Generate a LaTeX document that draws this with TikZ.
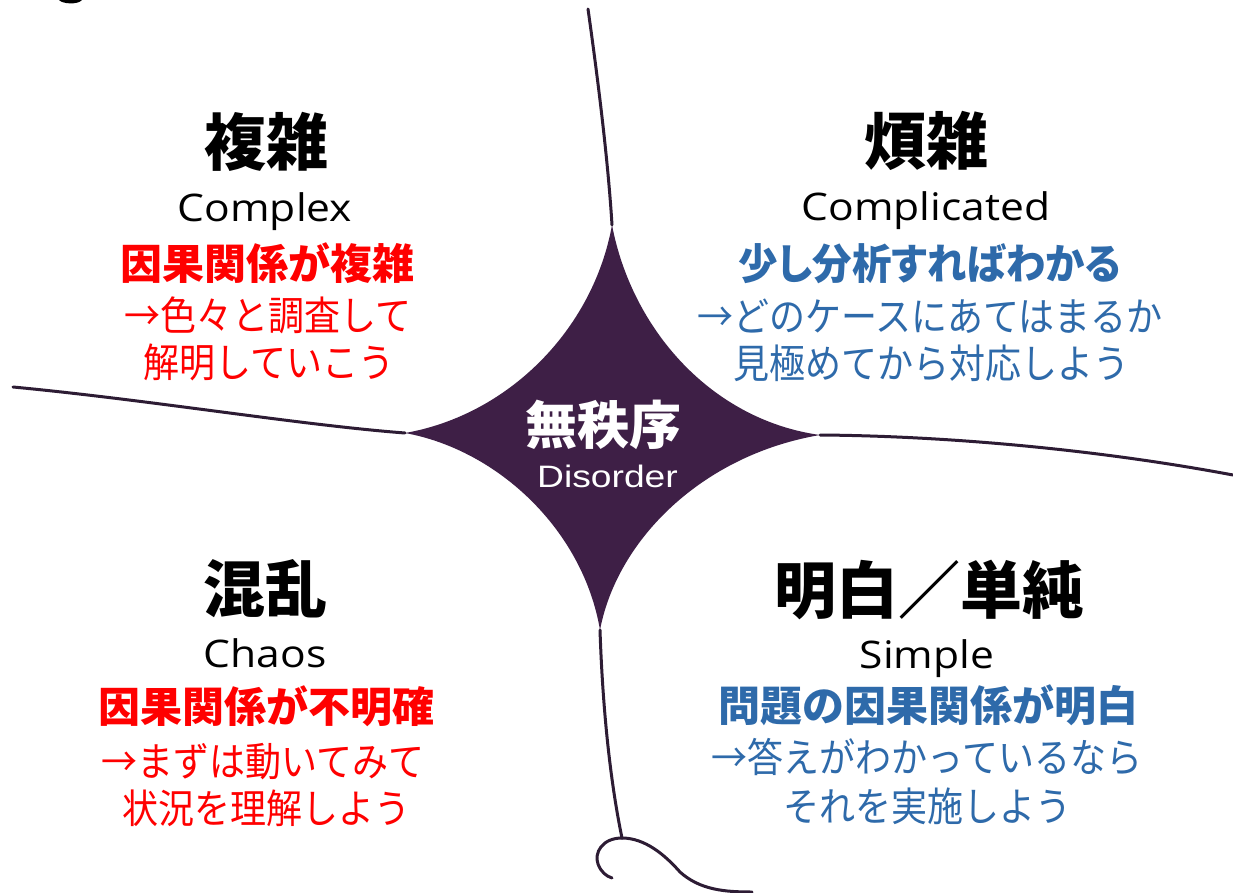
\documentclass[tikz,border=0pt]{standalone}
\usepackage{fontspec}
\newfontfamily\jp{Noto Sans CJK JP}
\newfontfamily\jpn{Noto Sans CJK JP}[FakeStretch=0.9]
\newfontfamily\jpp{Noto Sans CJK JP}[RawFeature=+palt, FakeStretch=0.94]
\newfontfamily\en{Open Sans}[FakeStretch=1.12]
\newfontfamily\dis{Liberation Sans}[FakeStretch=1.2]
\definecolor{jred}{RGB}{255,0,0}
\definecolor{jblue}{RGB}{46,106,170}
\definecolor{starfill}{RGB}{62,31,70}
\definecolor{edgecol}{RGB}{45,28,52}
\tikzset{
  head/.style={font=\jp\bfseries\fontsize{62}{70}\selectfont, inner sep=0pt, text=black},
  eng/.style={font=\en\fontsize{38}{44}\selectfont, anchor=base, inner sep=0pt, text=black},
  boldline/.style={font=\jp\bfseries\fontsize{42}{48}\selectfont, inner sep=0pt},
  normline/.style={font=\jpn\fontsize{40}{46}\selectfont, inner sep=0pt},
  edgeline/.style={draw=edgecol, line width=3pt, line cap=round},
}
\begin{document}
\begin{tikzpicture}[x=1pt,y=-1pt]
\useasboundingbox (0,0) rectangle (1233,893);
\fill[white] (0,0) rectangle (1233,893);
% small fragment at top left
\fill[black] (59,0) .. controls (62,4) and (78,5) .. (82,0) -- cycle;
% star (Disorder)
\coordinate (T) at (612,225);
\coordinate (R) at (820,435);
\coordinate (B) at (600,630);
\coordinate (L) at (405,433);
\fill[starfill] (T) .. controls (632,330) and (712,420) .. (R)
  .. controls (702,455) and (617,540) .. (B)
  .. controls (583,530) and (498,450) .. (L)
  .. controls (508,415) and (593,330) .. (T) -- cycle;
% boundary lines
\coordinate (topend) at (588,9);
\coordinate (leftend) at (13,387);
\coordinate (rightend) at (1233,475);
\coordinate (curl) at (622,838);
\coordinate (curlL) at (612,878);
\coordinate (curlR) at (752,892);
\draw[edgeline] (topend) .. controls (598,80) and (608,160) .. (T);
\draw[edgeline] (leftend) .. controls (150,400) and (300,425) .. (L);
\draw[edgeline] (R) .. controls (950,436) and (1100,450) .. (rightend);
\draw[edgeline] (B) .. controls (603,720) and (612,790) .. (curl);
\draw[edgeline] (curl) .. controls (602,838) and (594,853) .. (598,864) .. controls (601,872) and (606,876) .. (curlL);
\draw[edgeline] (curl) .. controls (645,838) and (665,855) .. (680,872) .. controls (700,890) and (725,892) .. (curlR);
% center text
\node[font=\jp\bfseries\fontsize{52}{58}\selectfont, text=white, inner sep=0pt] (mu) at (603.5,425) {無秩序};
\node[font=\dis\fontsize{31}{36}\selectfont, text=white, inner sep=0pt, anchor=base] (dis) at (607.5,487) {Disorder};
% top-left: Complex
\node[head] (h1) at (266,141.5) {複雑};
\node[eng] (e1) at (265,222) {Complex};
\node[boldline, text=jred] (b1) at (267,263.5) {因果関係が複雑};
\node[normline, text=jred] (n1a) at (268,315) {→色々と調査して};
\node[normline, text=jred] (n1b) at (269,362.5) {解明していこう};
% top-right: Complicated
\node[head] (h2) at (926,140.5) {煩雑};
\node[eng] (e2) at (926,221) {Complicated};
\node[boldline, font=\jpp\bfseries\fontsize{42}{48}\selectfont, text=jblue] (b2) at (930,263.5) {少し分析すればわかる};
\node[normline, text=jblue] (n2a) at (930,316.5) {→どのケースにあてはまるか};
\node[normline, text=jblue] (n2b) at (931,363.5) {見極めてから対応しよう};
% bottom-left: Chaos
\node[head] (h3) at (265,588.5) {混乱};
\node[eng] (e3) at (265,667) {Chaos};
\node[boldline, text=jred] (b3) at (266,706.5) {因果関係が不明確};
\node[normline, text=jred] (n3a) at (263,761.5) {→まずは動いてみて};
\node[normline, text=jred] (n3b) at (266,808.5) {状況を理解しよう};
% bottom-right: Simple
\node[head] (h4) at (929,589.5) {明白／単純};
\node[eng] (e4) at (927,668) {Simple};
\node[boldline, text=jblue] (b4) at (928,705.5) {問題の因果関係が明白};
\node[normline, text=jblue] (n4a) at (927,756.5) {→答えがわかっているなら};
\node[normline, text=jblue] (n4b) at (927,806.5) {それを実施しよう};
\end{tikzpicture}
\end{document}
